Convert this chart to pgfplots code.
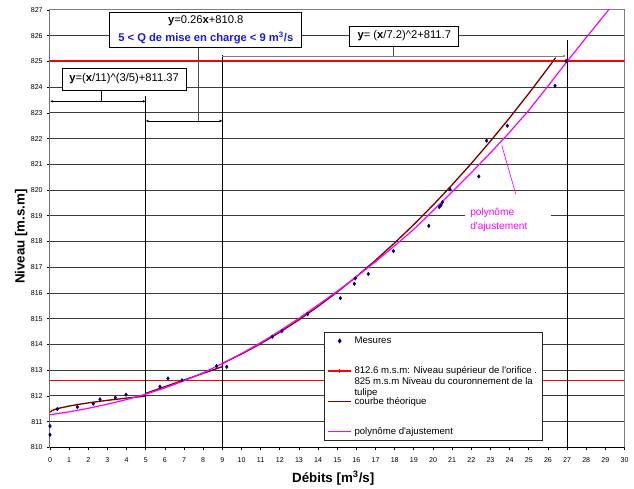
\documentclass[border=0pt]{standalone}
\usepackage{pgfplots}
\pgfplotsset{compat=1.18}
\usepackage{fontspec}
\setmainfont{Liberation Sans}
\usetikzlibrary{arrows.meta}
\definecolor{navy}{RGB}{0,0,128}
\definecolor{maroon}{RGB}{128,0,0}
\definecolor{mag}{RGB}{255,0,255}
\definecolor{qblue}{RGB}{25,25,235}
\definecolor{gridc}{RGB}{60,60,60}
\pgfplotstableread{
x y
0 810.83
0 810.49
0.38 811.49
1.43 811.57
2.26 811.70
2.61 811.87
3.41 811.93
3.97 812.05
5.74 812.36
6.16 812.68
6.89 812.61
8.70 813.16
9.23 813.13
11.61 814.30
12.11 814.52
13.46 815.18
15.16 815.80
15.89 816.36
15.94 816.57
16.62 816.74
17.93 817.63
19.78 818.61
20.33 819.34
20.42 819.42
20.49 819.53
20.89 820.03
22.39 820.53
22.80 821.92
23.88 822.50
26.37 824.05
26.95 825.02
}\mesures
\pgfplotstableread{
x y
0 811.37
0.1 811.43
0.25 811.473
0.5 811.527
1 811.607
1.5 811.673
2 811.730
2.5 811.781
3 811.829
3.5 811.873
4 811.915
4.5 811.955
5 811.993
5 812.10
6 812.36
7 812.62
8 812.88
9 813.14
9 813.263
10 813.629
11 814.034
12 814.478
13 814.960
14 815.481
15 816.040
16 816.638
17 817.275
18 817.950
19 818.664
20 819.416
21 820.207
22 821.036
23 821.904
24 822.811
25 823.756
26 824.740
26.4 825.144
}\theorique
\pgfplotstableread{
x y
0 811.27
1 811.38
2 811.52
3 811.68
4 811.86
5 812.07
6 812.31
7 812.59
8 812.90
9 813.26
10 813.65
11 814.07
12 814.53
13 815.02
14 815.54
15 816.07
16 816.63
17 817.22
18 817.84
19 818.48
20 819.20
21 819.93
22 820.68
23 821.45
24 822.25
25 823.10
26 824.04
27 825.00
28 825.93
29 826.85
29.6 827.40
}\polynome
\begin{document}
\begin{tikzpicture}
\useasboundingbox (-37.5pt,-30.45pt) rectangle (438pt,335.55pt);
\begin{axis}[
  at={(0,0)}, anchor=south west,
  scale only axis, width=430.9pt, height=328.05pt,
  xmin=0, xmax=30, ymin=810, ymax=827,
  xtick={0,1,...,30}, ytick={810,811,...,827},
  tick pos=left, tick align=outside, major tick length=2pt,
  tick style={black, line width=0.6pt},
  axis line style={draw=gray, line width=0.75pt},
  ymajorgrids, major grid style={gridc, line width=0.75pt},
  /pgf/number format/assume math mode=true,
  /pgf/number format/set thousands separator={},
  ticklabel style={font=\fontsize{5.3}{6}\selectfont},
  xticklabel style={yshift=-2pt},
  xlabel={\bfseries Débits [m\textsuperscript{3}/s]},
  ylabel={\bfseries Niveau [m.s.m]},
  label style={font=\fontsize{8.5}{10}\selectfont},
  every axis x label/.style={at={(axis description cs:0.493,-0.070)}, anchor=center},
  every axis y label/.style={at={(axis description cs:-0.050,0.482)}, rotate=90, anchor=center},
  legend style={at={(0.4775,0.2635)}, anchor=north west, draw=black!85, line width=0.75pt, fill=white,
    font=\fontsize{7.2}{8.1}\selectfont, row sep=11.8pt, inner xsep=2pt, inner ysep=1pt},
  legend cell align=left,
]
% red reference lines
\addplot[red, line width=1.3pt, forget plot] coordinates {(0,812.6) (30,812.6)};
\addplot[red, line width=1.5pt, forget plot] coordinates {(0,825) (30,825)};
% vertical lines
\draw[black, line width=0.75pt] (axis cs:5,810) -- (axis cs:5,823.65);
\draw[black, line width=0.75pt] (axis cs:9,810) -- (axis cs:9,825.25);
\draw[black, line width=0.75pt] (axis cs:27,810) -- (axis cs:27,825.83);
% dimension lines
\draw[black, line width=0.5pt, {Latex[length=2pt,width=2pt]}-{Latex[length=2pt,width=2pt]}] (axis cs:0,823.45) -- (axis cs:5,823.45);
\draw[black, line width=0.5pt, {Latex[length=2pt,width=2pt]}-{Latex[length=2pt,width=2pt]}] (axis cs:5,822.69) -- (axis cs:9,822.69);
\draw[gray, line width=0.6pt, -{Latex[length=2pt,width=2pt]}] (axis cs:9,825.21) -- (axis cs:26.93,825.21);
\draw[black, line width=0.5pt] (axis cs:2.66,823.45) -- (axis cs:2.66,823.89);
\draw[black!70, line width=0.6pt] (axis cs:7.75,822.69) -- (axis cs:7.75,825.56);
\draw[black!70, line width=0.6pt] (axis cs:17.93,825.21) -- (axis cs:17.93,825.60);
% curves
\addplot[maroon, line width=1pt, forget plot] table {\theorique};
\addplot[mag, line width=0.9pt, forget plot] table {\polynome};
\addplot[only marks, mark=diamond*, mark size=1.3pt, navy, forget plot] table {\mesures};
% pointer
\draw[mag, line width=0.5pt] (axis cs:23.59,821.73) -- (axis cs:24.32,819.85);
\node[fill=white, inner xsep=3.75pt, inner ysep=1pt, text width=57pt, align=left, anchor=west, text=mag,
  font=\fontsize{7.6}{10.5}\selectfont] at (axis cs:21.67,818.83) {polynôme\\d\textquotesingle ajustement};
% boxes
\node[draw=black, fill=white, line width=0.6pt, minimum width=93pt, minimum height=16.5pt, inner sep=1pt,
  font=\fontsize{8.4}{10}\selectfont] at (axis cs:3.87,824.32) {\textbf{y}=(\textbf{x}/11)\textasciicircum(3/5)+811.37};
\node[draw=black, fill=white, line width=0.6pt, minimum width=144pt, minimum height=26pt, inner sep=1pt, align=center,
  font=\fontsize{8.4}{10}\selectfont] at (axis cs:8.135,826.235) {\textbf{y}=0.26\textbf{x}+810.8\\[3pt]\textcolor{qblue}{\bfseries 5 < Q de mise en charge < 9 m\textsuperscript{3}/s}};
\node[draw=black, fill=white, line width=0.6pt, minimum width=81.75pt, minimum height=15pt, inner sep=1pt,
  font=\fontsize{8.4}{10}\selectfont] at (axis cs:18.5,825.99) {\textbf{y}= (\textbf{x}/7.2)\textasciicircum2+811.7};
% black left and bottom axis lines
\draw[black, line width=0.75pt] (rel axis cs:0,1) -- (rel axis cs:0,0) -- (rel axis cs:1,0);
% legend
\addlegendimage{only marks, mark=diamond*, mark size=1.3pt, navy}
\addlegendentry{\rule[-2pt]{0pt}{5.4pt}Mesures}
\addlegendimage{red, line width=1.2pt, mark=+, mark size=1.5pt, mark options={red, line width=0.5pt}}
\addlegendentry{\rule[-2pt]{0pt}{5.4pt}\raisebox{0pt}[\height][0pt]{\begin{tabular}[t]{@{}l@{}}812.6 m.s.m: Niveau supérieur de l\textquotesingle orifice .\\825 m.s.m Niveau du couronnement de la\\tulipe\end{tabular}}}
\addlegendimage{maroon, line width=1.2pt}
\addlegendentry{\rule[-2pt]{0pt}{5.4pt}courbe théorique}
\addlegendimage{mag, line width=0.9pt}
\addlegendentry{\rule[-2pt]{0pt}{5.4pt}polynôme d\textquotesingle ajustement}
\end{axis}
\end{tikzpicture}
\end{document}
